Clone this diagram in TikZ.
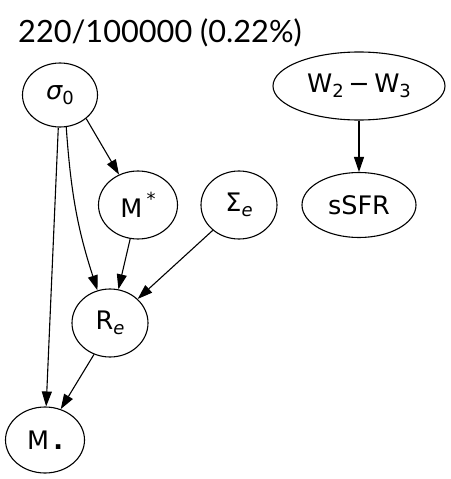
\documentclass[tikz,border=0pt]{standalone}
\usepackage{fontspec}
\setmainfont{DejaVu Sans}
\newfontfamily\titlefont{Lato}
\usetikzlibrary{arrows.meta,shapes.geometric}
\newcommand\mysub[1]{\raisebox{-0.22em}{\fontsize{18}{18}\selectfont #1}}
\newcommand\mysup[1]{\raisebox{0.45em}{\fontsize{18}{18}\selectfont #1}}
\begin{document}
\begin{tikzpicture}[x=1pt,y=-1pt,
  var/.style={draw, ellipse, line width=1.1pt, inner sep=0pt, font=\fontsize{25.5}{25.5}\selectfont},
  edge/.style={-{Triangle[length=15pt,width=10pt]}, line width=1.1pt}]
\useasboundingbox (0,0) rectangle (450,479);
\node[font=\titlefont\fontsize{30.7}{30.7}\selectfont, anchor=west, inner sep=0pt] (title) at (18,33) {220/100000 (0.22\%)};
\node[var, minimum width=75pt, minimum height=64pt] (s) at (60,95) {{\itshape σ}\mysub{0}};
\node[var, minimum width=172pt, minimum height=68pt] (w) at (359,86) {W\mysub{2}\hspace{0.18em}−\hspace{0.18em}W\mysub{3}};
\node[var, minimum width=79pt, minimum height=68pt] (ms) at (138,205) {M\,\mysup{*}};
\node[var, minimum width=76pt, minimum height=68pt] (se) at (239,205) {Σ\mysub{\itshape e}};
\node[var, minimum width=114pt, minimum height=65pt] (ss) at (359,205) {sSFR};
\node[var, minimum width=76pt, minimum height=68pt] (re) at (110,323) {R\mysub{\itshape e}};
\node[var, minimum width=79pt, minimum height=66pt] (mb) at (45,440) {M\,\textbf{.}};
\draw[edge] (s.-42) -- (ms.122);
\draw[edge] (s.-79) to[out=-86, in=108] (re.111);
\draw[edge] (s.-93) -- (mb.88);
\draw[edge] (ms.-103) -- (re.76);
\draw[edge] (se.-136) -- (re.41);
\draw[edge] (w.south) -- (ss.north);
\draw[edge] (re.-117) -- (mb.63);
\end{tikzpicture}
\end{document}
